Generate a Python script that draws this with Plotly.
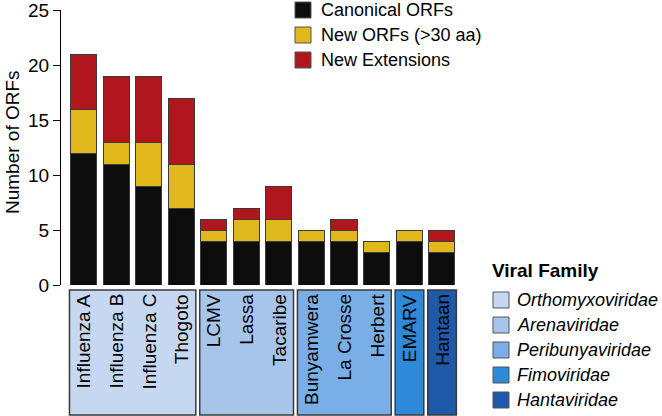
import plotly.graph_objects as go

# ---- data ----
viruses = ["Influenza A", "Influenza B", "Influenza C", "Thogoto",
           "LCMV", "Lassa", "Tacaribe",
           "Bunyamwera", "La Crosse", "Herbert",
           "EMARV", "Hantaan"]
canonical = [12, 11, 9, 7, 4, 4, 4, 4, 4, 3, 4, 3]
new_orfs = [4, 2, 4, 4, 1, 2, 2, 1, 1, 1, 1, 1]
new_ext = [5, 6, 6, 6, 1, 1, 3, 0, 1, 0, 0, 1]

families = ["Orthomyxoviridae", "Arenaviridae", "Peribunyaviridae",
            "Fimoviridae", "Hantaviridae"]
family_members = [
    ["Influenza A", "Influenza B", "Influenza C", "Thogoto"],
    ["LCMV", "Lassa", "Tacaribe"],
    ["Bunyamwera", "La Crosse", "Herbert"],
    ["EMARV"],
    ["Hantaan"],
]
series_names = ["Canonical ORFs", "New ORFs (>30 aa)", "New Extensions"]

# ---- styles ----
FONT = "Liberation Sans, Arial, Helvetica, sans-serif"
series_colors = ["#0d0d0d", "#e1b81b", "#b0171c"]
family_colors = ["#c6d8f1", "#a7c5eb", "#7aaee6", "#2e89d9", "#1e5aa8"]
edge = "#3a3a3a"

W, H = 662, 416
L, R, T, B = 61, 204, 10, 131
pw, ph = W - L - R, H - T - B


def px_x(p):
    return (p - L) / pw


def px_y(p):
    return (H - B - p) / ph


fig = go.Figure()
for name, vals, col in zip(series_names, [canonical, new_orfs, new_ext], series_colors):
    fig.add_trace(go.Bar(x=viruses, y=vals, name=name, marker_color=col,
                         marker_line_color=edge, marker_line_width=1,
                         showlegend=False, hoverinfo="skip"))

shapes = []
annotations = []

# family boxes below the bars
for fam, members, col in zip(families, family_members, family_colors):
    i0 = viruses.index(members[0])
    i1 = viruses.index(members[-1])
    shapes.append(dict(type="rect", xref="x", yref="paper",
                       x0=i0 - 0.43, x1=i1 + 0.45,
                       y0=px_y(415), y1=px_y(290),
                       fillcolor=col, line=dict(color=edge, width=1.5), layer="above"))

for v in viruses:
    annotations.append(dict(x=v, xref="x", y=px_y(292), yref="paper",
                            text=v, showarrow=False, textangle=-90,
                            xanchor="center", yanchor="top",
                            font=dict(family=FONT, size=19, color="black")))

# series legend (top)
for k, (name, col) in enumerate(zip(series_names, series_colors)):
    cy = 10 + 25 * k
    shapes.append(dict(type="rect", xref="paper", yref="paper",
                       x0=px_x(295), x1=px_x(311), y0=px_y(cy + 8), y1=px_y(cy - 8),
                       fillcolor=col, line=dict(color="#555555", width=1)))
    annotations.append(dict(x=px_x(319), xref="paper", y=px_y(cy), yref="paper",
                            text=name, showarrow=False, xanchor="left", yanchor="middle",
                            font=dict(family=FONT, size=18, color="black")))

# family legend
annotations.append(dict(x=px_x(490), xref="paper", y=px_y(270), yref="paper",
                        text="<b>Viral Family</b>", showarrow=False,
                        xanchor="left", yanchor="middle",
                        font=dict(family=FONT, size=19, color="black")))
for k, (fam, col) in enumerate(zip(families, family_colors)):
    cy = 300 + 25 * k
    shapes.append(dict(type="rect", xref="paper", yref="paper",
                       x0=px_x(493), x1=px_x(509), y0=px_y(cy + 8), y1=px_y(cy - 8),
                       fillcolor=col, line=dict(color="#555555", width=1)))
    annotations.append(dict(x=px_x(515), xref="paper", y=px_y(cy), yref="paper",
                            text="<i>" + fam + "</i>", showarrow=False,
                            xanchor="left", yanchor="middle",
                            font=dict(family=FONT, size=18, color="black")))

# y axis title
annotations.append(dict(x=px_x(12), xref="paper", y=px_y(142), yref="paper",
                        text="Number of ORFs", showarrow=False, textangle=-90,
                        xanchor="center", yanchor="middle",
                        font=dict(family=FONT, size=19, color="black")))

fig.update_layout(
    width=W, height=H,
    margin=dict(l=L, r=R, t=T, b=B, autoexpand=False),
    paper_bgcolor="white", plot_bgcolor="white",
    barmode="stack", bargap=0.2,
    font=dict(family=FONT, size=18, color="black"),
    shapes=shapes, annotations=annotations,
    showlegend=False, hovermode=False,
    xaxis=dict(type="category", categoryorder="array", categoryarray=viruses,
               range=[-0.69, 11.5], showticklabels=False, ticks="",
               showline=False, showgrid=False, zeroline=False, automargin=False),
    yaxis=dict(range=[0, 25.0001], tickvals=[0, 5, 10, 15, 20, 25],
               ticks="outside", ticklen=7, tickwidth=1, tickcolor="black",
               showline=True, linecolor="black", linewidth=1,
               showgrid=False, zeroline=False, automargin=False,
               ticklabeloverflow="allow",
               tickfont=dict(family=FONT, size=19, color="black")),
)

fig.write_html("out.html", config={"displayModeBar": False, "staticPlot": True},
               post_script="document.body.style.margin='0';document.body.style.padding='0';")
